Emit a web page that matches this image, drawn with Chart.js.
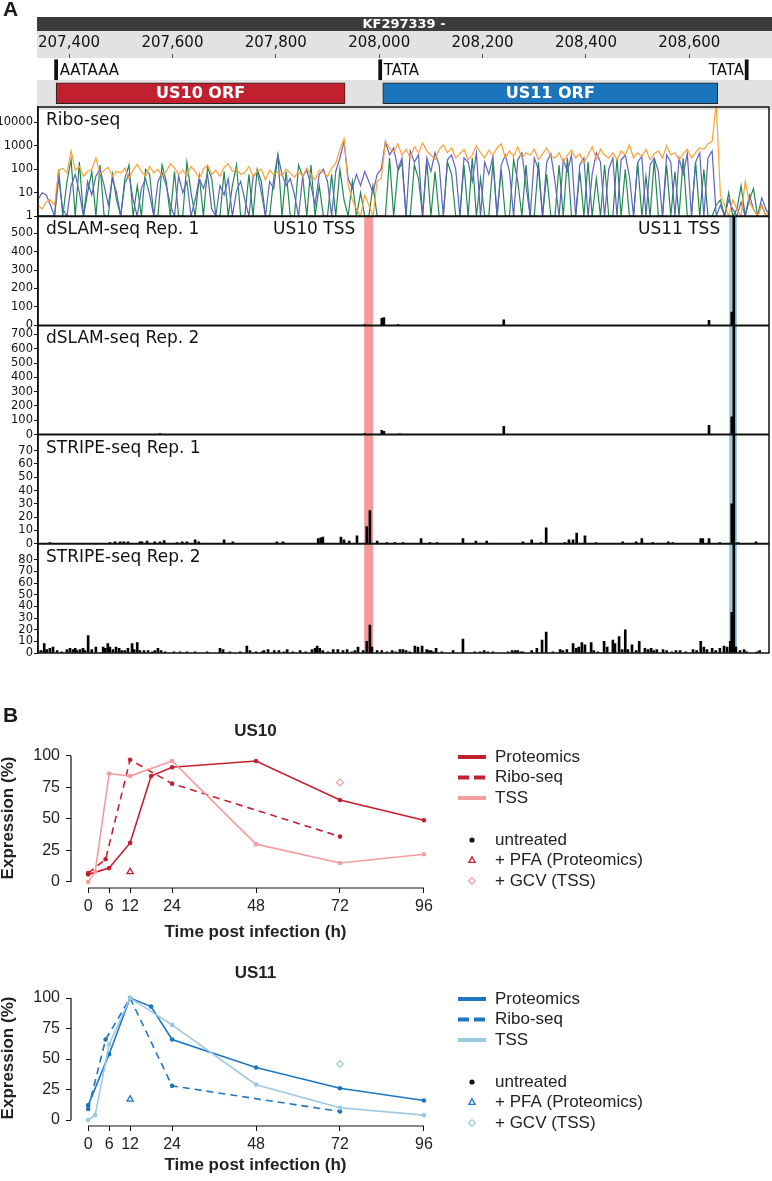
<!DOCTYPE html>
<html>
<head>
<meta charset="utf-8">
<script src="https://cdn.jsdelivr.net/npm/chart.js@4.4.1/dist/chart.umd.min.js"></script>
<style>
  html, body { margin: 0; padding: 0; background: #fff; }
  #page { position: relative; width: 772px; height: 1181px; overflow: hidden; }
  canvas { position: absolute; left: 0; }
  .panel { position: absolute; font: bold 21px "Liberation Sans", Arial, sans-serif; color: #1a1a1a; }
</style>
</head>
<body>
<div id="page">
  <canvas id="header" width="772" height="110" style="top:0"></canvas>
  <canvas id="tracks" width="772" height="575" style="top:95px"></canvas>
  <canvas id="us10" width="772" height="232" style="top:718px"></canvas>
  <canvas id="us11" width="772" height="221" style="top:960px"></canvas>
  <div class="panel" style="left:3px;top:-3px">A</div>
  <div class="panel" style="left:3px;top:703px">B</div>
</div>
<script>
// ---------- panel A: genome header ----------
const genomeName = 'KF297339';
const rulerTicks = [207400, 207600, 207800, 208000, 208200, 208400, 208600];
const orfNames = ['US10 ORF', 'US11 ORF'];
const orfRanges = [[207375, 207934], [208007, 208655]];
const motifNames = ['AATAAA', 'TATA', 'TATA'];
const motifRanges = [[207372, 207378], [207999, 208005], [208708, 208714]];

// ---------- panel A: tracks ----------
const riboStart = 207340;
const riboStep = 8;
const riboTicks = [1, 10, 100, 1000, 10000];
const riboOrange = [
  3, 2, 4, 5, 3, 90, 110, 70, 600, 90,
  130, 50, 80, 100, 300, 60, 90, 120, 50, 80,
  70, 110, 40, 90, 160, 80, 50, 130, 70, 100,
  50, 80, 170, 110, 60, 90, 50, 130, 80, 40,
  100, 150, 60, 90, 50, 120, 170, 80, 100, 60,
  70, 130, 50, 80, 100, 35, 90, 60, 80, 50,
  100, 70, 45, 80, 50, 110, 60, 35, 90, 70,
  50, 110, 180, 700, 2000, 20, 5, 2, 1, 8,
  3, 1, 30, 40, 1500, 800, 500, 1200, 400, 700,
  300, 900, 500, 1300, 600, 400, 250, 700, 1100, 500,
  800, 300, 450, 700, 250, 400, 1000, 500, 300, 650,
  400, 800, 1200, 300, 600, 350, 900, 300, 500, 400,
  700, 250, 450, 800, 350, 300, 500, 200, 400, 650,
  300, 450, 180, 400, 900, 250, 700, 400, 300, 500,
  250, 600, 400, 1100, 300, 500, 350, 700, 250, 450,
  600, 300, 1000, 400, 500, 250, 450, 700, 300, 500,
  800, 700, 1200, 1500, 60000, 8, 3, 1, 5, 2,
  1, 30, 4, 2, 1, 3, 1, 2
];
const riboBlue = [
  5, 10, 8, 3, 1, 40, 2, 1, 20, 60,
  10, 1, 30, 8, 50, 100, 20, 3, 40, 10,
  1, 25, 60, 5, 1, 15, 40, 8, 1, 30,
  70, 20, 3, 1, 50, 10, 30, 1, 5, 40,
  15, 60, 2, 1, 20, 8, 40, 1, 12, 30,
  5, 1, 45, 80, 10, 1, 30, 15, 400, 60,
  20, 40, 8, 1, 50, 90, 20, 3, 60, 100,
  30, 1, 80, 300, 1500, 40, 15, 60, 20, 80,
  30, 10, 60, 100, 1500, 400, 800, 100, 300, 1,
  600, 200, 400, 1, 300, 80, 500, 150, 1, 250,
  400, 100, 1, 300, 200, 30, 500, 1, 200, 60,
  350, 1, 150, 400, 80, 1, 250, 500, 20, 1,
  300, 100, 1, 200, 450, 30, 1, 250, 80, 400,
  1, 150, 300, 1, 60, 500, 200, 1, 100, 300,
  1, 250, 400, 50, 1, 200, 350, 1, 150, 300,
  80, 1, 400, 200, 1, 300, 60, 450, 1, 200,
  500, 1, 300, 600, 1, 3, 1, 5, 2, 1,
  4, 1, 8, 2, 1, 6, 2, 1
];
const riboGreen = [
  1, 1, 1, 1, 1, 100, 1, 30, 250, 1,
  200, 1, 10, 80, 1, 150, 1, 1, 60, 5,
  1, 40, 150, 1, 20, 1, 100, 60, 1, 1,
  150, 30, 1, 80, 1, 1, 200, 10, 1, 50,
  1, 120, 40, 1, 1, 80, 1, 20, 150, 1,
  1, 60, 1, 100, 30, 1, 1, 40, 400, 1,
  80, 1, 1, 150, 50, 1, 150, 1, 20, 1,
  1, 60, 1, 100, 5, 1, 30, 1, 10, 1,
  1, 20, 1, 1, 1, 300, 1, 80, 200, 1,
  1, 150, 40, 1, 250, 1, 80, 1, 1, 200,
  60, 1, 1, 150, 1, 300, 1, 40, 1, 1,
  200, 1, 100, 1, 1, 250, 30, 1, 150, 1,
  1, 200, 1, 60, 1, 1, 150, 1, 300, 1,
  1, 80, 1, 200, 1, 40, 1, 150, 1, 1,
  300, 1, 100, 1, 1, 200, 1, 50, 1, 250,
  1, 1, 150, 1, 80, 1, 300, 1, 1, 200,
  1, 100, 1, 1, 3, 5, 1, 10, 1, 2,
  20, 1, 5, 15, 1, 3, 1, 1
];

const dslam1Ticks = [0, 100, 200, 300, 400, 500];
const dslam2Ticks = [0, 100, 200, 300, 400, 500, 600, 700];
const stripe1Ticks = [0, 10, 20, 30, 40, 50, 60, 70];
const stripe2Ticks = [0, 10, 20, 30, 40, 50, 60, 70, 80];

// [position, count]
const dslam1 = [[207972, 5], [208005, 38], [208009, 42], [208036, 4], [208241, 30],
  [208638, 27], [208682, 72], [208686, 2000]];
const dslam2 = [[207576, 8], [207972, 8], [208005, 30], [208009, 22], [208040, 6],
  [208241, 58], [208638, 65], [208682, 125], [208686, 3000]];
const stripe1 = [[207363, 1], [207479, 1], [207489, 1.5], [207499, 1.5], [207506, 1.5], [207514, 1.5],
  [207537, 1.5], [207541, 1.5], [207551, 2], [207566, 1.5], [207576, 1.5], [207584, 2.5],
  [207609, 1], [207619, 1.5], [207628, 1.5], [207644, 3], [207651, 1.5], [207700, 3], [207717, 1.5],
  [207802, 1.5], [207814, 1.5], [207882, 4], [207887, 4.5], [207891, 5],
  [207926, 5], [207932, 3], [207942, 2], [207957, 6], [207976, 13], [207982, 25],
  [207996, 2], [208015, 1], [208030, 1], [208046, 1], [208081, 4], [208098, 1], [208112, 1],
  [208162, 4], [208187, 2], [208208, 2], [208278, 1.5], [208295, 3], [208313, 1], [208323, 12],
  [208359, 1], [208367, 3], [208375, 3], [208382, 8], [208398, 6], [208419, 1],
  [208471, 1.5], [208497, 1.5], [208508, 4], [208529, 1], [208559, 1.5], [208568, 1],
  [208622, 4], [208626, 4], [208638, 4], [208659, 1], [208682, 30], [208686, 300],
  [208694, 1], [208729, 1.5]];
const stripe2 = [[207340, 2], [207346, 2], [207352, 8], [207357, 3], [207363, 4], [207369, 5],
  [207377, 2], [207386, 1], [207396, 3], [207402, 4], [207408, 3], [207412, 4], [207415, 2],
  [207421, 3], [207427, 4], [207431, 2], [207437, 15], [207444, 3], [207452, 5],
  [207466, 5], [207470, 4], [207475, 8], [207479, 5], [207485, 3], [207491, 5], [207497, 4],
  [207502, 2], [207508, 2], [207514, 4], [207522, 8], [207526, 3], [207532, 9], [207537, 2],
  [207545, 2], [207553, 2], [207561, 1], [207566, 2], [207572, 4], [207578, 2], [207586, 1],
  [207603, 1], [207615, 1], [207628, 1], [207644, 1], [207667, 1], [207692, 4], [207698, 3],
  [207711, 1], [207731, 1], [207744, 6], [207750, 2], [207762, 1], [207773, 1], [207777, 2],
  [207785, 3], [207797, 2], [207806, 2], [207816, 1], [207822, 3], [207833, 1], [207847, 2],
  [207858, 1], [207870, 3], [207876, 4], [207880, 6], [207885, 4], [207891, 2], [207901, 1],
  [207911, 3], [207920, 3], [207930, 2], [207938, 3], [207947, 1], [207953, 2], [207959, 5],
  [207969, 2], [207976, 10], [207982, 24], [207986, 5], [207996, 2], [208005, 2], [208015, 1],
  [208025, 2], [208032, 1], [208040, 3], [208046, 3], [208052, 2], [208059, 1], [208069, 6],
  [208075, 5], [208083, 6], [208092, 3], [208096, 2], [208100, 2], [208104, 1], [208110, 4],
  [208121, 1], [208143, 2], [208162, 12], [208185, 1], [208195, 1], [208203, 2], [208210, 1],
  [208220, 1], [208249, 1], [208257, 2], [208263, 2], [208268, 2], [208274, 1], [208278, 1],
  [208295, 2], [208305, 4], [208315, 11], [208323, 18], [208336, 1], [208350, 3], [208355, 2],
  [208363, 3], [208375, 8], [208381, 4], [208386, 5], [208392, 9], [208398, 7], [208410, 9],
  [208415, 2], [208423, 1], [208435, 10], [208441, 5], [208452, 11], [208456, 8], [208464, 14],
  [208470, 3], [208476, 20], [208481, 3], [208489, 7], [208497, 2], [208503, 10], [208514, 4],
  [208520, 3], [208526, 4], [208531, 2], [208537, 3], [208549, 3], [208556, 2], [208566, 1],
  [208574, 2], [208582, 2], [208593, 1], [208607, 3], [208614, 2], [208622, 10], [208628, 5],
  [208634, 3], [208644, 4], [208651, 2], [208659, 4], [208667, 6], [208673, 5], [208679, 10],
  [208682, 35], [208686, 300], [208690, 5], [208698, 2], [208706, 3], [208711, 1], [208731, 1],
  [208736, 2]];

const trackNames = ['Ribo-seq', 'dSLAM-seq Rep. 1', 'dSLAM-seq Rep. 2', 'STRIPE-seq Rep. 1', 'STRIPE-seq Rep. 2'];
const tssNames = ['US10 TSS', 'US11 TSS'];
const tssBands = [[207971, 207988], [208677, 208692]];

// ---------- panel B ----------
const timeTicks = [0, 6, 12, 24, 48, 72, 96];
const exprTicks = [0, 25, 50, 75, 100];
const protTimes = [0, 6, 12, 18, 24, 48, 72, 96];
const riboTimes = [0, 5, 12, 24, 72];
const tssTimes = [0, 2, 6, 12, 24, 48, 72, 96];
const pfaTimes = [12];
const gcvTimes = [72];
const us10Prot = [6, 11, 31, 84, 91, 96, 65, 49];
const us10Ribo = [7, 18, 97, 78, 36];
const us10Tss = [0, 8, 86, 84, 96, 30, 15, 22];
const us10Pfa = [8];
const us10Gcv = [79];
const us11Prot = [12, 54, 100, 93, 66, 43, 26, 16];
const us11Ribo = [9, 66, 100, 28, 7];
const us11Tss = [0, 4, 62, 100, 78, 29, 10, 4];
const us11Pfa = [17];
const us11Gcv = [46];
const legendLines = ['Proteomics', 'Ribo-seq', 'TSS'];
const legendMarks = ['untreated', '+ PFA (Proteomics)', '+ GCV (TSS)'];

const dejavu = '"DejaVu Sans", Verdana, sans-serif';
const arial = '"Liberation Sans", Arial, Helvetica, sans-serif';

function pts(xs, ys) { return xs.map((x, i) => ({ x: x, y: ys[i] })); }
function pairs(list) { return list.map(p => ({ x: p[0], y: p[1] })); }
function setTicks(list) { return function (scale) { scale.ticks = list.map(v => ({ value: v })); }; }
function withCommas(v) { return String(v).replace(/\B(?=(\d{3})+(?!\d))/g, ','); }

const riboPos = riboOrange.map((v, i) => riboStart + i * riboStep);

// ---------------- header ----------------
const headerDecor = {
  id: 'headerDecor',
  beforeDraw(chart) {
    const { ctx, chartArea: a } = chart;
    ctx.save();
    ctx.fillStyle = '#3c3c3c';
    ctx.fillRect(a.left, 17, a.right - a.left, 14);
    ctx.fillStyle = '#e2e2e2';
    ctx.fillRect(a.left, 31, a.right - a.left, 27);
    ctx.fillRect(a.left, 80, a.right - a.left, 30);
    ctx.fillStyle = '#fff';
    ctx.font = 'bold 13px ' + dejavu;
    ctx.textAlign = 'center';
    ctx.textBaseline = 'middle';
    ctx.fillText(genomeName + ' -', 404, 24.5);
    ctx.restore();
  },
  afterDatasetsDraw(chart) {
    const ctx = chart.ctx;
    ctx.save();
    ctx.textBaseline = 'middle';
    // ORF names
    ctx.font = 'bold 16px ' + dejavu;
    ctx.fillStyle = '#fff';
    ctx.textAlign = 'center';
    orfNames.forEach((name, i) => {
      const bar = chart.getDatasetMeta(i + 1).data[0];
      ctx.fillText(name, (bar.x + bar.base) / 2, bar.y + 1);
    });
    // motif names
    ctx.font = '15px ' + dejavu;
    ctx.fillStyle = '#111';
    chart.getDatasetMeta(0).data.forEach((bar, i) => {
      const right = Math.max(bar.x, bar.base), left = Math.min(bar.x, bar.base);
      if (i < 2) { ctx.textAlign = 'left'; ctx.fillText(motifNames[i], right + 2, bar.y + 1); }
      else { ctx.textAlign = 'right'; ctx.fillText(motifNames[i], left - 1, bar.y + 1); }
    });
    ctx.restore();
  }
};

new Chart(document.getElementById('header'), {
  type: 'bar',
  data: {
    labels: ['motifs', 'orfs'],
    datasets: [
      { data: motifRanges.map(r => ({ y: 'motifs', x: r })), backgroundColor: '#111', barThickness: 20, grouped: false },
      { data: [{ y: 'orfs', x: orfRanges[0] }], backgroundColor: '#c1202f', borderColor: '#222', borderWidth: 1, borderSkipped: false, barThickness: 21, grouped: false },
      { data: [{ y: 'orfs', x: orfRanges[1] }], backgroundColor: '#1b75bc', borderColor: '#222', borderWidth: 1, borderSkipped: false, barThickness: 21, grouped: false }
    ]
  },
  options: {
    indexAxis: 'y',
    responsive: false,
    animation: false,
    devicePixelRatio: 1,
    layout: { padding: { left: 37, right: 0, top: 31, bottom: 5 } },
    plugins: { legend: { display: false }, tooltip: { enabled: false } },
    scales: {
      x: {
        type: 'linear', position: 'top', min: 207338, max: 208760,
        afterBuildTicks: setTicks(rulerTicks),
        afterFit: s => { s.height = 27; },
        grid: { display: true, drawOnChartArea: false, drawTicks: true, tickLength: 4, color: '#555' },
        border: { display: false },
        ticks: { font: { family: dejavu, size: 15 }, color: '#111', padding: 2, maxRotation: 0, autoSkip: false, callback: v => withCommas(v) }
      },
      y: { type: 'category', display: false }
    }
  },
  plugins: [headerDecor]
});

// ---------------- tracks ----------------
const trackClip = {
  id: 'trackClip',
  beforeDatasetDraw(chart, args) {
    const s = chart.scales[args.meta.yAxisID];
    const a = chart.chartArea;
    chart.ctx.save();
    chart.ctx.beginPath();
    chart.ctx.rect(a.left, s.top, a.right - a.left, s.bottom - s.top);
    chart.ctx.clip();
  },
  afterDatasetDraw(chart) { chart.ctx.restore(); }
};

const trackOrder = ['yR', 'yD1', 'yD2', 'yS1', 'yS2'];
const bandColors = ['#f59a9a', '#9ecae1'];

const trackFrame = {
  id: 'trackFrame',
  beforeDatasetsDraw(chart) {
    const { ctx, chartArea: a, scales } = chart;
    const top = scales.yD1.top;
    ctx.save();
    tssBands.forEach((b, i) => {
      const x0 = scales.x.getPixelForValue(b[0]);
      const x1 = scales.x.getPixelForValue(b[1]);
      ctx.fillStyle = bandColors[i];
      ctx.fillRect(x0, top, x1 - x0, a.bottom - top);
    });
    ctx.restore();
  },
  afterDraw(chart) {
    const { ctx, chartArea: a, scales } = chart;
    ctx.save();
    ctx.strokeStyle = '#111';
    ctx.lineWidth = 2;
    trackOrder.slice(0, 4).forEach(id => {
      ctx.beginPath();
      ctx.moveTo(a.left, scales[id].bottom);
      ctx.lineTo(a.right, scales[id].bottom);
      ctx.stroke();
    });
    ctx.lineWidth = 1.5;
    ctx.strokeRect(a.left, a.top, a.right - a.left, a.bottom - a.top);
    ctx.font = '17px ' + dejavu;
    ctx.fillStyle = '#111';
    ctx.textBaseline = 'alphabetic';
    ctx.textAlign = 'left';
    trackOrder.forEach((id, i) => {
      ctx.fillText(trackNames[i], a.left + 8, scales[id].top + 18);
    });
    ctx.textAlign = 'right';
    tssBands.forEach((b, i) => {
      ctx.fillText(tssNames[i], scales.x.getPixelForValue(b[0]) - 9, scales.yD1.top + 18);
    });
    ctx.restore();
  }
};

function trackAxis(extra) {
  return Object.assign({
    stack: 'tracks',
    stackWeight: 1,
    position: 'left',
    grid: { display: true, drawOnChartArea: false, drawTicks: true, tickLength: 4, color: '#111', lineWidth: 1 },
    border: { display: true, color: '#111', width: 1.5 },
    ticks: { font: { family: dejavu, size: 11.5 }, color: '#111', padding: 1, autoSkip: false, callback: v => String(v) },
    afterFit: s => { s.width = 38; }
  }, extra);
}

function lineSet(values, color) {
  return { type: 'line', data: pts(riboPos, values), yAxisID: 'yR', borderColor: color, borderWidth: 1.2, pointRadius: 0, tension: 0 };
}
function barSet(list, axis) {
  return { type: 'bar', data: pairs(list), yAxisID: axis, backgroundColor: '#000', barThickness: 2, grouped: false };
}

new Chart(document.getElementById('tracks'), {
  type: 'bar',
  data: {
    datasets: [
      lineSet(riboOrange, '#ffa034'),
      lineSet(riboBlue, '#5c63c0'),
      lineSet(riboGreen, '#1f8a4f'),
      barSet(dslam1, 'yD1'),
      barSet(dslam2, 'yD2'),
      barSet(stripe1, 'yS1'),
      barSet(stripe2, 'yS2')
    ]
  },
  options: {
    responsive: false,
    animation: false,
    devicePixelRatio: 1,
    layout: { padding: { left: 0, right: 3, top: 12, bottom: 17 } },
    plugins: { legend: { display: false }, tooltip: { enabled: false } },
    scales: {
      x: { type: 'linear', min: 207340, max: 208754, display: false, offset: false },
      yS2: trackAxis({ min: 0, max: 93.8, afterBuildTicks: setTicks(stripe2Ticks) }),
      yS1: trackAxis({ min: 0, max: 82, afterBuildTicks: setTicks(stripe1Ticks) }),
      yD2: trackAxis({ min: 0, max: 763, afterBuildTicks: setTicks(dslam2Ticks) }),
      yD1: trackAxis({ min: 0, max: 592, afterBuildTicks: setTicks(dslam1Ticks) }),
      yR: trackAxis({ type: 'logarithmic', min: 1, max: 44200, afterBuildTicks: setTicks(riboTicks) })
    }
  },
  plugins: [trackClip, trackFrame]
});

// ---------------- panel B ----------------
const axisLines = {
  id: 'axisLines',
  afterDraw(chart) {
    const { ctx, chartArea: a, scales: { x, y } } = chart;
    ctx.save();
    ctx.strokeStyle = '#111';
    ctx.lineWidth = 1.2;
    ctx.beginPath();
    ctx.moveTo(a.left, y.getPixelForValue(exprTicks[0]));
    ctx.lineTo(a.left, y.getPixelForValue(exprTicks[exprTicks.length - 1]));
    ctx.moveTo(x.getPixelForValue(timeTicks[0]), a.bottom);
    ctx.lineTo(x.getPixelForValue(timeTicks[timeTicks.length - 1]), a.bottom);
    ctx.stroke();
    ctx.restore();
  }
};

function sideLegend(cfg) {
  return {
    id: 'sideLegend',
    afterDraw(chart) {
      const { ctx, chartArea: a } = chart;
      ctx.save();
      // plot title
      ctx.font = 'bold 17px ' + arial;
      ctx.fillStyle = '#222';
      ctx.textAlign = 'center';
      ctx.textBaseline = 'middle';
      ctx.fillText(cfg.title, (a.left + a.right) / 2, a.top - 17);
      // legend
      ctx.font = '17px ' + arial;
      ctx.textAlign = 'left';
      const lineColors = [cfg.dark, cfg.dark, cfg.light];
      legendLines.forEach((name, i) => {
        const y = a.top + 9 + i * 20.5;
        ctx.strokeStyle = lineColors[i];
        ctx.lineWidth = 4;
        ctx.setLineDash(i === 1 ? [11, 5] : []);
        ctx.beginPath();
        ctx.moveTo(a.right + 18, y);
        ctx.lineTo(a.right + 46, y);
        ctx.stroke();
        ctx.fillStyle = '#222';
        ctx.fillText(name, a.right + 55, y);
      });
      ctx.setLineDash([]);
      const marks = [
        { pointStyle: 'circle', radius: 2.6, borderWidth: 0, fill: '#111', stroke: '#111' },
        { pointStyle: 'triangle', radius: 3.6, borderWidth: 1.3, fill: 'rgba(0,0,0,0)', stroke: cfg.dark },
        { pointStyle: 'rectRot', radius: 3.4, borderWidth: 1.2, fill: 'rgba(0,0,0,0)', stroke: cfg.light }
      ];
      legendMarks.forEach((name, i) => {
        const y = a.top + 92 + i * 20.5;
        ctx.fillStyle = marks[i].fill;
        ctx.strokeStyle = marks[i].stroke;
        ctx.lineWidth = marks[i].borderWidth;
        Chart.helpers.drawPoint(ctx, marks[i], a.right + 32, y);
        ctx.fillStyle = '#222';
        ctx.fillText(name, a.right + 55, y);
      });
      ctx.restore();
    }
  };
}

function expressionChart(canvasId, cfg) {
  const grid = { display: true, drawOnChartArea: false, drawTicks: true, tickLength: 5, color: '#111', lineWidth: 1 };
  const tickFont = { family: arial, size: 16 };
  new Chart(document.getElementById(canvasId), {
    type: 'line',
    data: {
      datasets: [
        { data: pts(tssTimes, cfg.tss), borderColor: cfg.light, backgroundColor: cfg.light, borderWidth: 1.6, pointRadius: 2.3, pointBorderWidth: 0 },
        { data: pts(riboTimes, cfg.ribo), borderColor: cfg.dark, backgroundColor: cfg.dark, borderWidth: 1.6, borderDash: [7, 5], pointRadius: 2.3, pointBorderWidth: 0 },
        { data: pts(protTimes, cfg.prot), borderColor: cfg.dark, backgroundColor: cfg.dark, borderWidth: 1.6, pointRadius: 2.3, pointBorderWidth: 0 },
        { data: pts(pfaTimes, cfg.pfa), showLine: false, pointStyle: 'triangle', pointRadius: 3.6, pointBackgroundColor: 'rgba(0,0,0,0)', pointBorderColor: cfg.dark, pointBorderWidth: 1.3 },
        { data: pts(gcvTimes, cfg.gcv), showLine: false, pointStyle: 'rectRot', pointRadius: 3.4, pointBackgroundColor: 'rgba(0,0,0,0)', pointBorderColor: cfg.light, pointBorderWidth: 1.2 }
      ]
    },
    options: {
      responsive: false,
      animation: false,
      devicePixelRatio: 1,
      layout: { padding: { left: 0, right: 332, top: cfg.padTop, bottom: 0 } },
      plugins: { legend: { display: false }, tooltip: { enabled: false } },
      scales: {
        x: {
          type: 'linear', min: -4.9, max: 100.6,
          grid: grid, border: { display: false },
          afterBuildTicks: setTicks(timeTicks),
          afterFit: s => { s.height = cfg.xAxisH; },
          ticks: { font: tickFont, color: '#222', padding: 4, maxRotation: 0, autoSkip: false },
          title: { display: true, text: 'Time post infection (h)', color: '#222', font: { family: arial, size: 17, weight: 'bold' }, padding: { top: 0, bottom: cfg.titlePad } }
        },
        y: {
          min: cfg.yMin, max: cfg.yMax,
          grid: grid, border: { display: false },
          afterBuildTicks: setTicks(exprTicks),
          afterFit: s => { s.width = 71; },
          ticks: { font: tickFont, color: '#222', padding: 6 },
          title: { display: true, text: 'Expression (%)', color: '#222', font: { family: arial, size: 17, weight: 'bold', lineHeight: 1 }, padding: 0 }
        }
      }
    },
    plugins: [axisLines, sideLegend(cfg)]
  });
}

expressionChart('us10', {
  title: 'US10', dark: '#c41f2e', light: '#f59d9d',
  prot: us10Prot, ribo: us10Ribo, tss: us10Tss, pfa: us10Pfa, gcv: us10Gcv,
  padTop: 30, xAxisH: 62, titlePad: 7, yMin: -4.8, yMax: 106.3
});
expressionChart('us11', {
  title: 'US11', dark: '#1e76c0', light: '#9dc8e2',
  prot: us11Prot, ribo: us11Ribo, tss: us11Tss, pfa: us11Pfa, gcv: us11Gcv,
  padTop: 30, xAxisH: 55, titlePad: 5, yMin: -4.9, yMax: 106.6
});
</script>
</body>
</html>
